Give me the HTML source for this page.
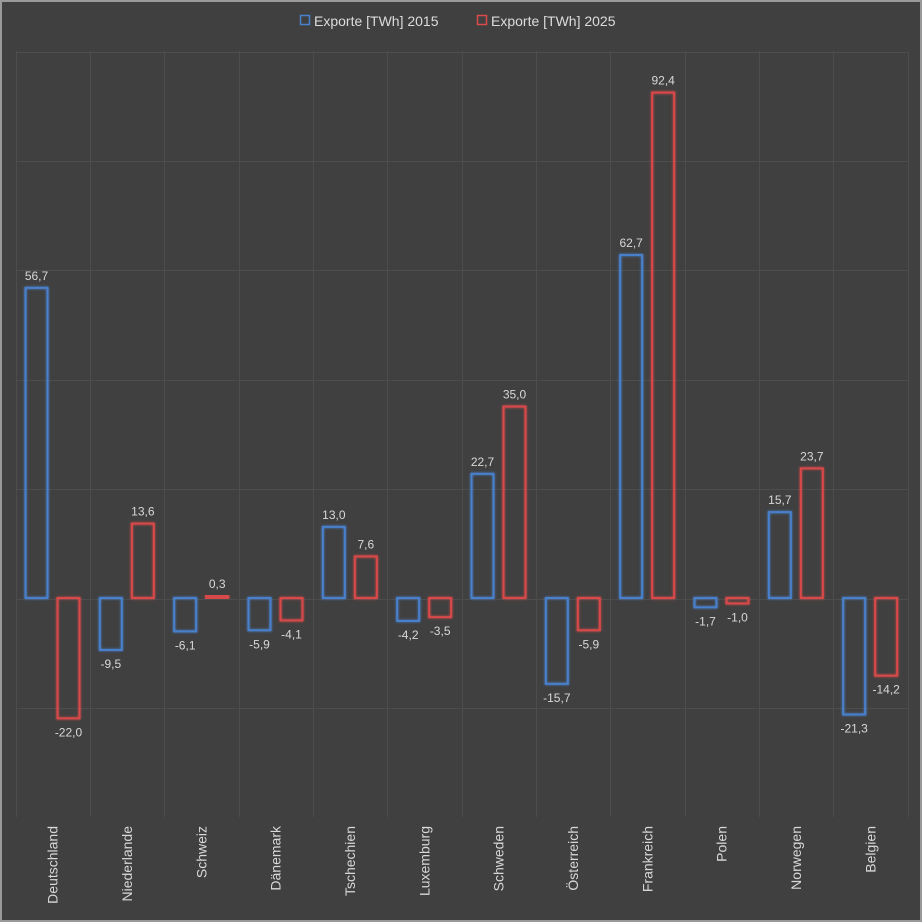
<!DOCTYPE html>
<html><head><meta charset="utf-8"><style>
html,body{margin:0;padding:0;background:#404040;}
svg{display:block;font-family:"Liberation Sans","DejaVu Sans",sans-serif;}
</style></head><body>
<svg width="922" height="922" viewBox="0 0 922 922" xmlns="http://www.w3.org/2000/svg">
<defs>
<filter id="g" x="-50%" y="-50%" width="200%" height="200%"><feGaussianBlur stdDeviation="1.2" result="b"/><feMerge><feMergeNode in="b"/><feMergeNode in="SourceGraphic"/></feMerge></filter>
</defs>
<rect x="0" y="0" width="922" height="922" fill="#404040"/>
<rect x="1" y="1" width="920" height="920" fill="none" stroke="#9a9a9a" stroke-width="2"/>
<g id="grid" stroke="#4d4d4d" stroke-width="1" fill="none"></g>
<g id="bars"></g>
<g id="txt" fill="#d8d8d8" font-size="12" text-anchor="middle"></g>
<g font-size="14" fill="#dcdcdc">
<rect x="300.5" y="15.5" width="9" height="9" fill="none" stroke="#4a80cc" stroke-width="1.5"/>
<text x="314" y="26">Exporte [TWh] 2015</text>
<rect x="477.5" y="15.5" width="9" height="9" fill="none" stroke="#d94a4a" stroke-width="1.5"/>
<text x="491" y="26">Exporte [TWh] 2025</text>
</g>
</svg>
<script>
const ns="http://www.w3.org/2000/svg";
const cats=["Deutschland","Niederlande","Schweiz","Dänemark","Tschechien","Luxemburg","Schweden","Österreich","Frankreich","Polen","Norwegen","Belgien"];
const a=[56.7,-9.5,-6.1,-5.9,13.0,-4.2,22.7,-15.7,62.7,-1.7,15.7,-21.3];
const b=[-22.0,13.6,0.3,-4.1,7.6,-3.5,35.0,-5.9,92.4,-1.0,23.7,-14.2];
const L=15.5,R=907.5,T=51.5,Z=598,S=5.47,cw=(R-L)/12;
const grid=document.getElementById('grid'),bars=document.getElementById('bars'),txt=document.getElementById('txt');
function el(p,t,at){const e=document.createElementNS(ns,t);for(const k in at)e.setAttribute(k,at[k]);p.appendChild(e);return e;}
for(let i=0;i<=6;i++){const y=Math.round(T+i*109.4)+0.5;el(grid,'line',{x1:L,x2:R,y1:y,y2:y});}
for(let i=0;i<=12;i++){const x=Math.round(L+i*cw)+0.5;el(grid,'line',{x1:x,x2:x,y1:T,y2:817});}
function bar(cx,v,col){
 const h=Math.max(Math.abs(v)*S,2);const y=v>=0?Z-h:Z;
 el(bars,'rect',{x:cx-11,y:y,width:22,height:h,fill:'none',stroke:col,'stroke-width':2,filter:'url(#g)'});
 const t=el(txt,'text',{x:cx,y:v>=0?y-8:y+h+18});t.textContent=v.toFixed(1).replace('.',',');
}
cats.forEach((c,i)=>{
 const x0=L+i*cw;
 bar(x0+21,a[i],'#4a80cc');bar(x0+53,b[i],'#d94a4a');
 const cx=x0+cw/2+5;
 const t=el(txt,'text',{x:0,y:0,transform:`translate(${cx},826) rotate(-90)`,'text-anchor':'end','font-size':14});t.textContent=c;
});
</script>
</body></html>
